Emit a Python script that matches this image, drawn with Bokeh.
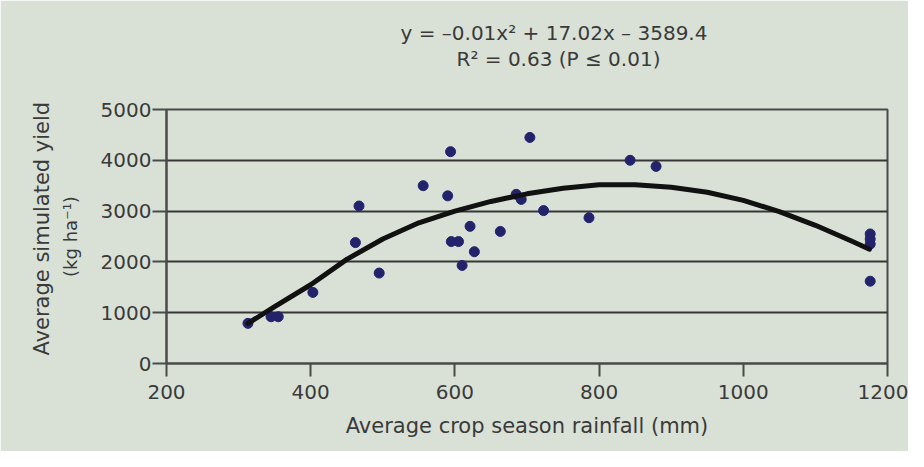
from bokeh.plotting import figure
from bokeh.models import Title, FixedTicker, Range1d, ColumnDataSource
from bokeh.embed import file_html
from bokeh.resources import INLINE

# ---- data ----
rain = [313, 345, 355, 403, 462, 467, 495, 556, 590, 594, 595, 605, 610, 621,
        627, 663, 685, 692, 704, 723, 786, 843, 879, 1176, 1176, 1176, 1176]
yield_ = [790, 920, 920, 1400, 2380, 3100, 1780, 3500, 3300, 4170, 2400, 2400,
          1930, 2700, 2200, 2600, 3330, 3230, 4450, 3010, 2870, 4000, 3880,
          2550, 2450, 2350, 1620]

trend_x = [313, 350, 400, 450, 500, 550, 600, 650, 700, 750, 800, 850, 900,
           950, 1000, 1050, 1100, 1150, 1175]
trend_y = [790, 1120, 1550, 2050, 2450, 2770, 3000, 3190, 3340, 3450, 3520,
           3520, 3470, 3370, 3210, 2990, 2720, 2410, 2250]

x_ticks = [200, 400, 600, 800, 1000, 1200]
y_ticks = [0, 1000, 2000, 3000, 4000, 5000]

eq_line1 = "y = \u20130.01x\u00b2 + 17.02x \u2013 3589.4"
eq_line2 = "R\u00b2 = 0.63 (P \u2264 0.01)"
x_title = "Average crop season rainfall (mm)"
y_title1 = "Average simulated yield"
y_title2 = "(kg ha\u207b\u00b9)"

BG = "#d9e1d7"
TXT = "#3a3a3a"
LINE = "#4a4a4a"
FONT = "DejaVu Sans"
FS = "20px"

p = figure(width=908, height=451, output_backend="svg", toolbar_location=None,
           x_range=Range1d(200, 1200), y_range=Range1d(0, 5000),
           min_border_left=166, min_border_right=21, min_border_top=109,
           min_border_bottom=88)
p.background_fill_color = BG
p.border_fill_color = BG
p.outline_line_color = LINE
p.outline_line_width = 2

p.xgrid.visible = False
p.ygrid.grid_line_color = "#363636"
p.ygrid.grid_line_width = 2
p.ygrid.ticker = FixedTicker(ticks=y_ticks)

for ax in (p.xaxis[0], p.yaxis[0]):
    ax.axis_line_color = LINE
    ax.axis_line_width = 2
    ax.major_tick_line_color = LINE
    ax.major_tick_line_width = 2
    ax.major_tick_in = 0
    ax.minor_tick_line_color = None
    ax.major_label_text_font = FONT
    ax.major_label_text_font_size = FS
    ax.major_label_text_color = TXT
    ax.axis_label_text_font = FONT
    ax.axis_label_text_font_style = "normal"
    ax.axis_label_text_color = TXT

p.xaxis.ticker = FixedTicker(ticks=x_ticks)
p.yaxis.ticker = FixedTicker(ticks=y_ticks)
p.xaxis.major_tick_out = 13
p.xaxis.major_label_standoff = 8
p.yaxis.major_tick_out = 14
p.yaxis.major_label_standoff = 1

p.xaxis.axis_label = x_title
p.xaxis.axis_label_text_font_size = "21px"
p.xaxis.axis_label_standoff = 12

p.yaxis.axis_label = y_title2
p.yaxis.axis_label_text_font_size = "18px"
p.yaxis.axis_label_standoff = 17

src = ColumnDataSource(dict(x=rain, y=yield_))
p.scatter("x", "y", source=src, size=10, marker="circle",
          fill_color="#23236c", line_color="#23236c")
p.line(trend_x, trend_y, line_color="#111111", line_width=5, line_join="round",
       line_cap="round")

# spacer (same colour as the background) between frame and the equation lines
p.add_layout(Title(text=".", text_color=BG, text_font_size="2px", standoff=36),
             "above")


def title(text, where, offset=0, standoff=0, size=FS):
    t = Title(text=text, align="left", offset=offset, standoff=standoff,
              text_font=FONT, text_font_size=size, text_font_style="normal",
              text_color=TXT)
    p.add_layout(t, where)


title(eq_line2, "above", offset=290)
title(eq_line1, "above", offset=234)
title(y_title1, "left", offset=8, standoff=6, size="21px")

open("out.html", "w").write(file_html(p, INLINE))
